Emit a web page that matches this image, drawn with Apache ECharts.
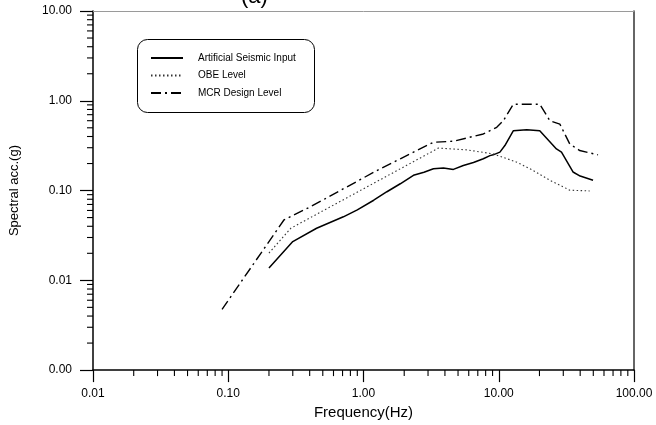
<!DOCTYPE html>
<html>
<head>
<meta charset="utf-8">
<script src="https://cdn.jsdelivr.net/npm/echarts@6/dist/echarts.min.js"></script>
<style>
html,body{margin:0;padding:0;background:#fff;}
#chart{width:656px;height:425px;}
</style>
</head>
<body>
<div id="chart"></div>
<script>
// ---- data ----
const freqASI = [0.2, 0.3, 0.45, 0.71, 0.9, 1.19, 1.49, 1.87, 2.34, 2.8, 3.29, 3.9, 4.62, 5.47, 6.5, 7.69, 8.61, 9.1, 10.2, 11.1, 12.8, 16.1, 20.1, 26.7, 29.1, 35.4, 40, 49.8];
const accASI  = [0.0137, 0.027, 0.038, 0.051, 0.061, 0.078, 0.097, 0.119, 0.148, 0.16, 0.175, 0.178, 0.172, 0.19, 0.205, 0.226, 0.245, 0.25, 0.268, 0.317, 0.463, 0.476, 0.463, 0.291, 0.268, 0.161, 0.145, 0.13];

const freqOBE = [0.2, 0.29, 3.58, 5.8, 9.1, 13.6, 17.9, 23.9, 33.5, 47];
const accOBE  = [0.0201, 0.038, 0.297, 0.284, 0.256, 0.207, 0.168, 0.130, 0.101, 0.099];

const freqMCR = [0.09, 0.258, 0.405, 0.755, 1.33, 1.87, 3.29, 4.62, 7.69, 9.66, 10.8, 12.8, 20.1, 23.9, 28.3, 33.5, 39.7, 54.2];
const accMCR  = [0.00475, 0.047, 0.066, 0.110, 0.175, 0.226, 0.345, 0.354, 0.427, 0.506, 0.598, 0.914, 0.914, 0.598, 0.550, 0.330, 0.279, 0.250];

const seriesNames = ['Artificial Seismic Input', 'OBE Level', 'MCR Design Level'];

const xTickValues = [0.01, 0.1, 1, 10, 100];
const xTickLabels = ['0.01', '0.10', '1.00', '10.00', '100.00'];
const yTickValues = [0.001, 0.01, 0.1, 1, 10];
const yTickLabels = ['0.00', '0.01', '0.10', '1.00', '10.00'];
const minorMultipliers = [2, 3, 4, 5, 6, 7, 8, 9];

// ---- helpers ----
function pairs(xs, ys) { return xs.map((x, i) => [x, ys[i]]); }
function labelFor(values, labels) {
  return function (v) {
    for (let i = 0; i < values.length; i++) {
      if (Math.abs(Math.log10(v) - Math.log10(values[i])) < 1e-6) return labels[i];
    }
    return '';
  };
}
const minorX = [];
for (let d = 0; d < xTickValues.length - 1; d++) minorMultipliers.forEach(m => minorX.push([xTickValues[d] * m, yTickValues[0]]));
const minorY = [];
for (let d = 0; d < yTickValues.length - 1; d++) minorMultipliers.forEach(m => minorY.push([xTickValues[0], yTickValues[d] * m]));

const FONT = 'Liberation Sans, Arial, sans-serif';
const chart = echarts.init(document.getElementById('chart'), null, { renderer: 'canvas' });

const option = {
  backgroundColor: '#fff',
  animation: false,
  title: {
    text: '(a)', left: 236, top: -19,
    textStyle: { fontFamily: FONT, fontSize: 22, fontWeight: 'normal', color: '#000' }
  },
  grid: { left: 92, right: 22, top: 11, bottom: 52, containLabel: false },
  legend: {
    data: seriesNames,
    orient: 'vertical', left: 150, top: 53,
    itemWidth: 32, itemHeight: 10, itemGap: 7.5,
    padding: 0,
    selectedMode: false,
    itemStyle: { opacity: 0, color: 'rgba(0,0,0,0)', borderColor: 'rgba(0,0,0,0)', borderWidth: 0 },
    textStyle: { fontFamily: FONT, fontSize: 10, color: '#000', padding: [0, 0, 0, 10] }
  },
  graphic: [{
    type: 'rect', left: 135, top: 37, z: 10,
    shape: { width: 177, height: 73, r: 10 },
    style: { fill: 'none', stroke: '#000', lineWidth: 1 }
  }],
  xAxis: [{
    type: 'log', logBase: 10, min: 0.01, max: 100,
    name: 'Frequency(Hz)', nameLocation: 'middle', nameGap: 31,
    nameTextStyle: { fontFamily: FONT, fontSize: 15, color: '#000' },
    axisLine: { show: true, onZero: false, lineStyle: { color: '#000', width: 1.5 } },
    axisTick: { show: true, inside: false, length: 12, lineStyle: { color: '#000', width: 1.2 } },
    axisLabel: { margin: 18, fontFamily: FONT, fontSize: 12, color: '#000', formatter: labelFor(xTickValues, xTickLabels) },
    splitLine: { show: false },
    minorTick: { show: false }
  }, {
    type: 'log', logBase: 10, min: 0.01, max: 100, position: 'top',
    axisLine: { show: true, onZero: false, lineStyle: { color: '#9a9a9a', width: 1 } },
    axisTick: { show: false }, axisLabel: { show: false }, splitLine: { show: false }
  }],
  yAxis: [{
    type: 'log', logBase: 10, min: 0.001, max: 10,
    name: 'Spectral acc.(g)', nameLocation: 'middle', nameGap: 72,
    nameTextStyle: { fontFamily: FONT, fontSize: 13, color: '#000' },
    axisLine: { show: true, onZero: false, lineStyle: { color: '#000', width: 1.5 } },
    axisTick: { show: true, inside: false, length: 13, lineStyle: { color: '#000', width: 1.2 } },
    axisLabel: { margin: 21, fontFamily: FONT, fontSize: 12, color: '#000', formatter: labelFor(yTickValues, yTickLabels) },
    splitLine: { show: false },
    minorTick: { show: false }
  }, {
    type: 'log', logBase: 10, min: 0.001, max: 10, position: 'right',
    axisLine: { show: true, onZero: false, lineStyle: { color: '#333', width: 1.5 } },
    axisTick: { show: false }, axisLabel: { show: false }, splitLine: { show: false }
  }],
  series: [
    {
      name: seriesNames[0], type: 'line', data: pairs(freqASI, accASI),
      symbol: 'none', smooth: false,
      lineStyle: { color: '#000', width: 1.5, type: 'solid' },
      itemStyle: { color: '#000' }
    },
    {
      name: seriesNames[1], type: 'line', data: pairs(freqOBE, accOBE),
      symbol: 'none',
      lineStyle: { color: '#333', width: 1.1, type: [1.5, 2.5] },
      itemStyle: { color: '#333' }
    },
    {
      name: seriesNames[2], type: 'line', data: pairs(freqMCR, accMCR),
      symbol: 'none',
      lineStyle: { color: '#000', width: 1.4, type: [10, 4, 2, 4] },
      itemStyle: { color: '#000' }
    },
    {
      name: 'minorX', type: 'custom', data: minorX, clip: false, silent: true,
      renderItem: function (params, api) {
        const p = api.coord([api.value(0), api.value(1)]);
        return { type: 'line', shape: { x1: p[0], y1: p[1], x2: p[0], y2: p[1] + 6 }, style: { stroke: '#000', lineWidth: 1.1 } };
      }
    },
    {
      name: 'minorY', type: 'custom', data: minorY, clip: false, silent: true,
      renderItem: function (params, api) {
        const p = api.coord([api.value(0), api.value(1)]);
        return { type: 'line', shape: { x1: p[0] - 6, y1: p[1], x2: p[0], y2: p[1] }, style: { stroke: '#000', lineWidth: 1.1 } };
      }
    }
  ]
};
chart.setOption(option);
</script>
</body>
</html>
